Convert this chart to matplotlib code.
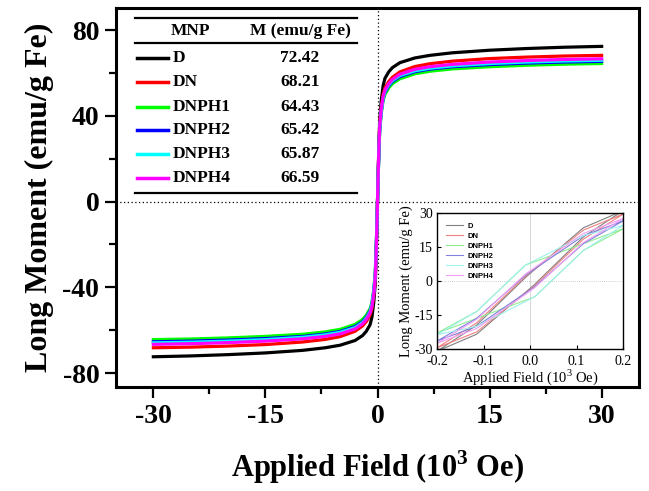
import matplotlib
matplotlib.use("Agg")
import matplotlib.pyplot as plt
from matplotlib.lines import Line2D
from matplotlib.ticker import MultipleLocator

plt.rcParams["axes.unicode_minus"] = False

# ---------------- data ----------------
names = ["D", "DN", "DNPH1", "DNPH2", "DNPH3", "DNPH4"]
ms_values = ["72.42", "68.21", "64.43", "65.42", "65.87", "66.59"]
colors = ["#000000", "#FF0000", "#00FF00", "#0000FF", "#00FFFF", "#FF00FF"]
inset_colors = ["#808080", "#F08080", "#90EE90", "#8080E0", "#A0F0F0", "#F0A0F0"]

H_main = [-30, -25, -20, -15, -10, -7, -5, -3, -2, -1.5, -1, -0.75, -0.5, -0.3, -0.2, -0.1, 0,
          0.1, 0.2, 0.3, 0.5, 0.75, 1, 1.5, 2, 3, 5, 7, 10, 15, 20, 25, 30]
M_D = [-72.4, -72.0, -71.4, -70.6, -69.4, -68.2, -67.0, -64.8, -62.5, -60.5, -57.5, -54.0, -47.0, -38.0, -28.0, -15.0, 0.0,
       15.0, 28.0, 38.0, 47.0, 54.0, 57.5, 60.5, 62.5, 64.8, 67.0, 68.2, 69.4, 70.6, 71.4, 72.0, 72.4]
M_DN = [-68.2, -67.9, -67.4, -66.7, -65.5, -64.3, -63.0, -60.5, -58.0, -56.0, -53.0, -50.0, -44.0, -36.0, -27.0, -14.0, 0.0,
        14.0, 27.0, 36.0, 44.0, 50.0, 53.0, 56.0, 58.0, 60.5, 63.0, 64.3, 65.5, 66.7, 67.4, 67.9, 68.2]
M_DNPH1 = [-64.4, -64.1, -63.6, -62.9, -61.9, -60.8, -59.6, -57.3, -55.0, -53.0, -50.0, -47.0, -41.0, -33.0, -24.0, -13.0, 0.0,
           13.0, 24.0, 33.0, 41.0, 47.0, 50.0, 53.0, 55.0, 57.3, 59.6, 60.8, 61.9, 62.9, 63.6, 64.1, 64.4]
M_DNPH2 = [-65.4, -65.1, -64.6, -63.9, -62.9, -61.8, -60.6, -58.3, -56.0, -54.0, -51.0, -48.0, -42.0, -34.0, -25.0, -13.0, 0.0,
           13.0, 25.0, 34.0, 42.0, 48.0, 51.0, 54.0, 56.0, 58.3, 60.6, 61.8, 62.9, 63.9, 64.6, 65.1, 65.4]
M_DNPH3 = [-65.9, -65.6, -65.1, -64.4, -63.3, -62.2, -61.0, -58.8, -56.5, -54.5, -51.5, -48.0, -42.0, -34.0, -25.0, -13.0, 0.0,
           13.0, 25.0, 34.0, 42.0, 48.0, 51.5, 54.5, 56.5, 58.8, 61.0, 62.2, 63.3, 64.4, 65.1, 65.6, 65.9]
M_DNPH4 = [-66.6, -66.3, -65.8, -65.1, -64.0, -62.9, -61.7, -59.4, -57.0, -55.0, -52.0, -49.0, -43.0, -35.0, -26.0, -14.0, 0.0,
           14.0, 26.0, 35.0, 43.0, 49.0, 52.0, 55.0, 57.0, 59.4, 61.7, 62.9, 64.0, 65.1, 65.8, 66.3, 66.6]
main_series = [M_D, M_DN, M_DNPH1, M_DNPH2, M_DNPH3, M_DNPH4]

H_inset = [0.2, 0.115, -0.01, -0.115, -0.2, -0.115, 0.01, 0.115, 0.2]
I_D = [31.0, 23.5, 1.5, -19.5, -31.0, -23.5, -1.5, 19.5, 31.0]
I_DN = [29.5, 22.5, 2.0, -18.5, -29.5, -22.5, -2.0, 18.5, 29.5]
I_DNPH1 = [23.0, 16.5, 7.0, -13.5, -23.0, -16.5, -7.0, 13.5, 23.0]
I_DNPH2 = [26.5, 20.0, 2.5, -16.5, -26.5, -20.0, -2.5, 16.5, 26.5]
I_DNPH3 = [24.5, 20.0, 7.0, -13.5, -23.7, -20.0, -7.0, 13.5, 24.5]
I_DNPH4 = [27.5, 21.0, 3.0, -17.0, -27.5, -21.0, -3.0, 17.0, 27.5]
inset_series = [I_D, I_DN, I_DNPH1, I_DNPH2, I_DNPH3, I_DNPH4]

main_xticks = [-30, -15, 0, 15, 30]
main_yticks = [-80, -40, 0, 40, 80]
inset_xticks = [-0.2, -0.1, 0.0, 0.1, 0.2]
inset_yticks = [-30, -15, 0, 15, 30]

# ---------------- figure ----------------
W, Hh = 649, 491
fig = plt.figure(figsize=(W / 100, Hh / 100), dpi=100)
SERIF = "Liberation Serif"
SANS = "Liberation Sans"


def fx(px):
    return px / W


def fy(py):
    return 1 - py / Hh


ax = fig.add_axes([fx(116), fy(387), fx(639) - fx(116), fy(8) - fy(387)])
for ys, c in zip(main_series, colors):
    ax.plot(H_main, ys, color=c, lw=2.3, solid_joinstyle="round")
ax.axhline(0, color="black", lw=0.9, ls=(0, (1, 2)), zorder=0)
ax.axvline(0, color="black", lw=0.9, ls=(0, (1, 2)), zorder=0)
ax.set_xlim(-35, 35)
ax.set_ylim(-86.5, 90.3)
ax.set_xticks(main_xticks)
ax.set_yticks(main_yticks)
ax.xaxis.set_minor_locator(MultipleLocator(7.5))
ax.yaxis.set_minor_locator(MultipleLocator(20))
ax.tick_params(which="major", direction="out", length=8, width=1.6, pad=4)
ax.tick_params(which="minor", direction="out", length=5, width=1.6)
for lab in ax.get_xticklabels() + ax.get_yticklabels():
    lab.set_fontfamily(SERIF)
    lab.set_fontweight("bold")
    lab.set_fontsize(20)
for s in ax.spines.values():
    s.set_linewidth(2.2)
ax.set_ylabel("Long Moment (emu/g Fe)", fontfamily=SERIF, fontweight="bold", fontsize=23, labelpad=6)
ax.set_xlabel("Applied Field (10$^\\mathregular{3}$ Oe)", fontfamily=SERIF, fontweight="bold",
              fontsize=22, labelpad=14)

# table legend
x0, x1 = 135, 357
for yy in (18, 43, 193):
    fig.add_artist(Line2D([fx(x0), fx(x1)], [fy(yy), fy(yy)], color="black", lw=1.6))
fig.text(fx(190), fy(31), "MNP", fontfamily=SERIF, fontweight="bold", fontsize=12.5, ha="center", va="center")
fig.text(fx(300), fy(31), "M (emu/g Fe)", fontfamily=SERIF, fontweight="bold", fontsize=12.5, ha="center", va="center")
row_y = [58, 82, 107, 130, 154, 178]
for n, v, c, yy in zip(names, ms_values, colors, row_y):
    fig.add_artist(Line2D([fx(137), fx(168)], [fy(yy), fy(yy)], color=c, lw=2.5))
    fig.text(fx(173), fy(yy), n, fontfamily=SERIF, fontweight="bold", fontsize=12.5, ha="left", va="center")
    fig.text(fx(300), fy(yy), v, fontfamily=SERIF, fontweight="bold", fontsize=12.5, ha="center", va="center")

# inset
ins = fig.add_axes([fx(437), fy(349), fx(623) - fx(437), fy(213) - fy(349)])
for ys, c, n in zip(inset_series, inset_colors, names):
    ins.plot(H_inset, ys, color=c, lw=0.8, label=n)
ins.axhline(0, color="#c0c0c0", lw=0.6, ls=(0, (1, 1.5)), zorder=0)
ins.axvline(0, color="#d0d0d0", lw=0.6, zorder=0)
ins.set_xlim(-0.2, 0.2)
ins.set_ylim(-30, 30)
ins.set_xticks(inset_xticks)
ins.set_yticks(inset_yticks)
ins.tick_params(axis="y", direction="in", length=3, width=0.8, pad=3)
ins.tick_params(axis="x", direction="in", length=3, width=0.8, pad=4)
for lab in ins.get_xticklabels() + ins.get_yticklabels():
    lab.set_fontfamily(SERIF)
    lab.set_fontsize(10)
for s in ins.spines.values():
    s.set_linewidth(1.0)
ins.set_xlabel("Applied Field (10$^\\mathregular{3}$ Oe)", fontfamily=SERIF, fontsize=10.5, labelpad=0)
ins.set_ylabel("Long Moment (emu/g Fe)", fontfamily=SERIF, fontsize=10.5, labelpad=1)
leg = ins.legend(loc="upper left", frameon=False, prop={"family": SANS, "weight": "bold", "size": 5.5},
                 handlelength=2.2, handletextpad=0.6, labelspacing=0.35, borderaxespad=0.3,
                 bbox_to_anchor=(0.02, 0.97))

fig.savefig("out.png", dpi=100)
